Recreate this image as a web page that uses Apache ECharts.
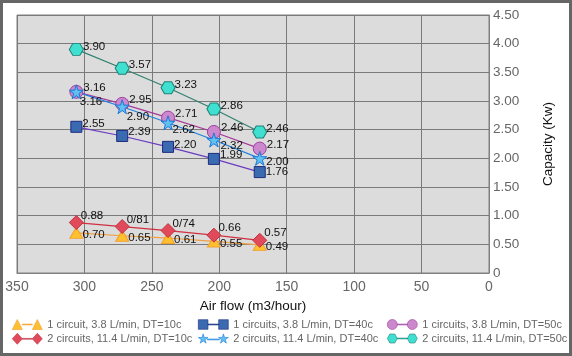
<!DOCTYPE html>
<html>
<head>
<meta charset="utf-8">
<script src="https://cdn.jsdelivr.net/npm/echarts@6/dist/echarts.min.js"></script>
<style>
html,body{margin:0;padding:0;background:#fff;}
#c{width:572px;height:356px;}
</style>
</head>
<body>
<div id="c"></div>
<script>
// ---- data ----
var airFlow = [306, 272, 238, 204, 170];
var seriesNames = [
  '1 circuit, 3.8 L/min, DT=10c',
  '2 circuits, 11.4 L/min, DT=10c',
  '1 circuits, 3.8 L/min, DT=40c',
  '2 circuits, 11.4 L/min, DT=40c',
  '1 circuits, 3.8 L/min, DT=50c',
  '2 circuits, 11.4 L/min, DT=50c'
];
var c1dt10 = [0.70, 0.65, 0.61, 0.55, 0.49];
var c2dt10 = [0.88, 0.81, 0.74, 0.66, 0.57];
var c1dt40 = [2.55, 2.39, 2.20, 1.99, 1.76];
var c2dt40 = [3.16, 2.90, 2.62, 2.32, 2.00];
var c1dt50 = [3.16, 2.95, 2.71, 2.46, 2.17];
var c2dt50 = [3.90, 3.57, 3.23, 2.86, 2.46];
var c1dt10Labels = ['0.70', '0.65', '0.61', '0.55', '0.49'];
var c2dt10Labels = ['0.88', '0/81', '0/74', '0.66', '0.57'];
var c1dt40Labels = ['2.55', '2.39', '2.20', '1.99', '1.76'];
var c2dt40Labels = ['3.16', '2.90', '2.62', '2.32', '2.00'];
var c1dt50Labels = ['3.16', '2.95', '2.71', '2.46', '2.17'];
var c2dt50Labels = ['3.90', '3.57', '3.23', '2.86', '2.46'];
var yTickFormat = function (v) { return v === 0 ? '0' : v.toFixed(2); };

// ---- style ----
var FONT = '"Liberation Sans", Arial, sans-serif';
var STAR = 'path://M50,0 L61,35 L98,35 L68,57 L79,91 L50,70 L21,91 L32,57 L2,35 L39,35 Z';
var HEX = 'path://M0,50 L25,7 L75,7 L100,50 L75,93 L25,93 Z';
// per-point label nudges (styling only)
var c2dt40LabelNudge = [[-4, 10], [-3, 10], [-3, 7], [-1, 6], [-1, 3]];
var c1dt40LabelNudge = [[0, -3], [0, -4], [0, -2], [0, -4], [0, 0]];

var legendIcons = {
  tri: 'path://M0,11 L5,1 L10,11 Z M10,5.6 L20,5.6 L20,6.4 L10,6.4 Z M20,11 L25,1 L30,11 Z',
  dia: 'path://M0,6 L5,0.5 L10,6 L5,11.5 Z M10,5.6 L20,5.6 L20,6.4 L10,6.4 Z M20,6 L25,0.5 L30,6 L25,11.5 Z',
  sq: 'path://M1,1.5 L10,1.5 L10,10.5 L1,10.5 Z M10,5.6 L20,5.6 L20,6.4 L10,6.4 Z M20,1.5 L29,1.5 L29,10.5 L20,10.5 Z',
  star: 'path://M5,0.5 L6.1,4 L9.8,4 L6.8,6.2 L7.9,9.6 L5,7.5 L2.1,9.6 L3.2,6.2 L0.2,4 L3.9,4 Z M9,5.6 L21,5.6 L21,6.4 L9,6.4 Z M25,0.5 L26.1,4 L29.8,4 L26.8,6.2 L27.9,9.6 L25,7.5 L22.1,9.6 L23.2,6.2 L20.2,4 L23.9,4 Z',
  circ: 'path://M0,6 A5,5 0 1,1 10,6 A5,5 0 1,1 0,6 Z M10,5.6 L20,5.6 L20,6.4 L10,6.4 Z M20,6 A5,5 0 1,1 30,6 A5,5 0 1,1 20,6 Z',
  hex: 'path://M0,6 L2.5,1.5 L7.5,1.5 L10,6 L7.5,10.5 L2.5,10.5 Z M10,5.6 L20,5.6 L20,6.4 L10,6.4 Z M20,6 L22.5,1.5 L27.5,1.5 L30,6 L27.5,10.5 L22.5,10.5 Z'
};

function mk(name, vals, labels, symbol, size, fill, border, line, off, nudge) {
  var data = airFlow.map(function (x, i) {
    var d = { value: [x, vals[i]] };
    if (nudge) d.label = { offset: nudge[i] };
    return d;
  });
  return {
    name: name, type: 'line', data: data,
    symbol: symbol, symbolSize: size, showAllSymbol: true,
    lineStyle: { color: line, width: 1.2 },
    itemStyle: { color: fill, borderColor: border, borderWidth: 1 },
    label: {
      show: true, position: 'right', distance: 0, offset: off,
      color: '#111', fontSize: 11.5, fontFamily: FONT,
      formatter: function (p) { return labels[p.dataIndex]; }
    },
    emphasis: { disabled: true }
  };
}

var legendText = { color: '#666', fontSize: 11, fontFamily: FONT };
function leg(left, names, icons) {
  return {
    orient: 'vertical', left: left, top: 319, itemGap: 3,
    itemWidth: 30, itemHeight: 12, padding: 0, itemStyle: { borderWidth: 0.6 },
    textStyle: legendText, selectedMode: false,
    data: names.map(function (n, i) { return { name: n, icon: icons[i] }; })
  };
}

var option = {
  animation: false,
  backgroundColor: '#fff',
  textStyle: { fontFamily: FONT },
  graphic: [{
    type: 'rect', silent: true, z: 100,
    shape: { x: 1.5, y: 1.5, width: 569, height: 353 },
    style: { fill: 'none', stroke: '#666', lineWidth: 3 }
  }],
  grid: {
    left: 17, right: 83, top: 15, bottom: 83,
    show: true, backgroundColor: '#dcdcdc', borderColor: '#808080', borderWidth: 1
  },
  legend: [
    leg(12, [seriesNames[0], seriesNames[1]], [legendIcons.tri, legendIcons.dia]),
    leg(198, [seriesNames[2], seriesNames[3]], [legendIcons.sq, legendIcons.star]),
    leg(387, [seriesNames[4], seriesNames[5]], [legendIcons.circ, legendIcons.hex])
  ],
  xAxis: {
    type: 'value', inverse: true, min: 0, max: 350, interval: 50,
    name: 'Air flow (m3/hour)', nameLocation: 'middle', nameGap: 25,
    nameTextStyle: { color: '#111', fontSize: 13.5, fontFamily: FONT },
    axisLine: { show: true, lineStyle: { color: '#808080' } },
    axisTick: { show: false },
    axisLabel: { color: '#666', fontSize: 14, margin: 7, fontFamily: FONT },
    splitLine: { show: true, lineStyle: { color: '#7a7a7a', width: 1 } }
  },
  yAxis: {
    type: 'value', position: 'right', min: 0, max: 4.5, interval: 0.5,
    name: 'Capacity (Kw)', nameLocation: 'middle', nameGap: 52,
    nameTextStyle: { color: '#111', fontSize: 13.5, fontFamily: FONT },
    axisLine: { show: true, lineStyle: { color: '#808080' } },
    axisTick: { show: false },
    axisLabel: { color: '#666', fontSize: 13.5, margin: 4, fontFamily: FONT, formatter: yTickFormat },
    splitLine: { show: true, lineStyle: { color: '#7a7a7a', width: 1 } }
  },
  series: [
    mk(seriesNames[0], c1dt10, c1dt10Labels, 'triangle', [13, 11], '#ffc030', '#f0a030', '#f0a040', [-1, 2]),
    mk(seriesNames[1], c2dt10, c2dt10Labels, 'diamond', 14, '#e04a5a', '#c03040', '#d03040', [-3, -7]),
    mk(seriesNames[2], c1dt40, c1dt40Labels, 'rect', 11, '#3a6ab0', '#1e2c80', '#6a3cc0', [1, -3], c1dt40LabelNudge),
    mk(seriesNames[4], c1dt50, c1dt50Labels, 'circle', 13, '#cc88cc', '#a040a0', '#a8389a', [0, -4]),
    mk(seriesNames[3], c2dt40, c2dt40Labels, STAR, 14, '#60c0f0', '#1a78d8', '#2080e0', [-4, 8], c2dt40LabelNudge),
    mk(seriesNames[5], c2dt50, c2dt50Labels, HEX, [14, 12], '#40e0d0', '#208078', '#2f8070', [-1, -3])
  ]
};

var chart = echarts.init(document.getElementById('c'), null, { renderer: 'canvas' });
chart.setOption(option);
</script>
</body>
</html>
